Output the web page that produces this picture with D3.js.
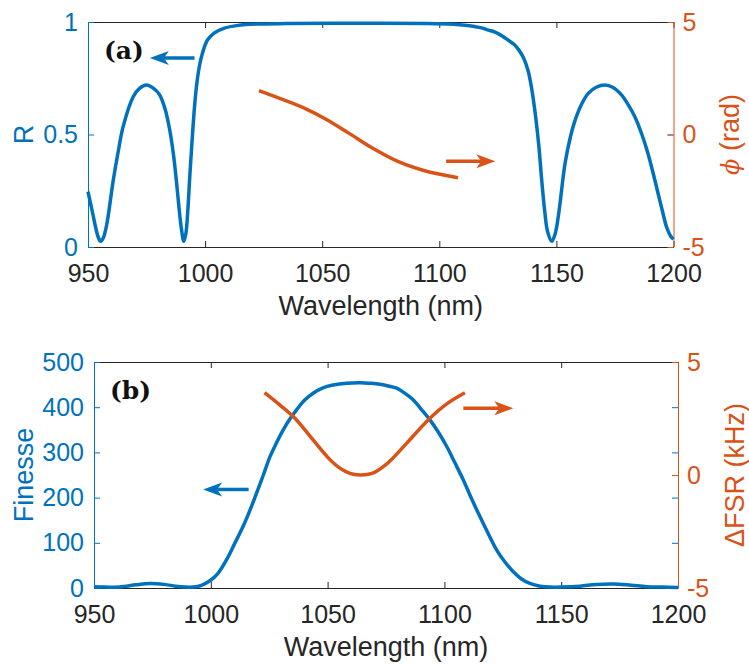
<!DOCTYPE html>
<html>
<head>
<meta charset="utf-8">
<script src="https://cdn.jsdelivr.net/npm/d3@7"></script>
<style>
  body { margin: 0; background: #fff; }
  svg { display: block; font-family: "Liberation Sans", Arial, Helvetica, sans-serif; }
</style>
</head>
<body>
<div id="chart"></div>
<script>
// ---- data ----
const wavelengthTicks = [950, 1000, 1050, 1100, 1150, 1200];

// (a) reflectance R vs wavelength
const rWl = [950, 952, 953.2, 954.5, 955.4, 956.5, 958, 960.8, 963, 965, 969.3, 972, 975, 978, 980.6, 983, 984.9,
  986.5, 987.7, 989, 989.9, 990.9, 991.8, 992.6, 993.5, 994.3, 995.3, 996.3, 997.5, 998.7, 1001, 1004, 1008, 1014,
  1022, 1035, 1065, 1095, 1106, 1111, 1115, 1118, 1121, 1124, 1127, 1129.6, 1132, 1134, 1136, 1138, 1139.5, 1141,
  1142.5, 1143.7, 1145, 1146.2, 1148, 1149.5, 1151, 1153.7, 1156, 1158, 1161, 1163.6, 1167, 1170.7, 1174, 1177.8,
  1180.5, 1183.5, 1186.5, 1189.1, 1191.5, 1193.4, 1195.5, 1197, 1199, 1200];
const rVal = [0.246, 0.15, 0.09, 0.04, 0.025, 0.04, 0.10, 0.298, 0.43, 0.535, 0.668, 0.705, 0.72, 0.705, 0.676, 0.61, 0.52,
  0.41, 0.298, 0.16, 0.08, 0.025, 0.06, 0.16, 0.32, 0.45, 0.6, 0.712, 0.8, 0.855, 0.92, 0.952, 0.972, 0.985,
  0.991, 0.993, 0.994, 0.993, 0.99, 0.986, 0.98, 0.974, 0.964, 0.954, 0.937, 0.918, 0.9, 0.875, 0.84, 0.78, 0.7, 0.59,
  0.45, 0.3, 0.16, 0.07, 0.025, 0.06, 0.15, 0.372, 0.49, 0.564, 0.64, 0.683, 0.71, 0.72, 0.71, 0.676,
  0.635, 0.579, 0.5, 0.416, 0.32, 0.239, 0.15, 0.09, 0.045, 0.035];

// (a) phase phi (rad)
const phiWl = [1023, 1033, 1043, 1051.6, 1061.5, 1071.4, 1082.8, 1094.1, 1108];
const phiVal = [1.95, 1.56, 1.14, 0.68, 0.05, -0.6, -1.22, -1.62, -1.92];

// (b) finesse
const fWl = [950, 955, 961, 968, 974, 980, 985, 989, 992.5, 996, 999.6, 1003, 1006.7, 1010, 1013.8, 1017, 1019.5,
  1022.5, 1025.3, 1028, 1031, 1034, 1036.7, 1040, 1043.8, 1048, 1052.4, 1058, 1064, 1068, 1072.4, 1076, 1079.6, 1083,
  1086.7, 1090, 1093.8, 1097.5, 1101, 1104.5, 1108.1, 1111.5, 1115.2, 1119, 1122.4, 1126, 1129.5, 1133, 1136.6, 1141,
  1145.2, 1150, 1158, 1165, 1172.3, 1180, 1186.6, 1193, 1200];
const fVal = [3, 2, 2, 7, 10, 8, 4, 2, 2, 6, 16, 32, 62, 96, 136, 175, 209,
  250, 290, 320, 350, 375, 394, 415, 431, 443, 449, 453, 454, 453, 451, 447, 442, 431,
  416, 396, 372, 344, 313, 277, 239, 199, 158, 118, 84, 57, 36, 20, 10, 4,
  2, 2, 4, 8, 9, 6, 3, 2, 1];

// (b) delta FSR (kHz)
const fsrWl = [1023, 1029.5, 1036, 1043.8, 1051, 1054.5, 1058, 1061, 1064.3, 1067.5, 1070.5, 1074, 1077.5,
  1083.8, 1093.8, 1101, 1108.8];
const fsrVal = [3.64, 3.1, 2.51, 1.55, 0.68, 0.36, 0.14, 0.03, 0.0, 0.03, 0.14, 0.38, 0.7,
  1.4, 2.51, 3.15, 3.64];

// arrows [from wavelength, to wavelength, level on own axis]
const arrowsA = [{side: "left", from: 995.5, to: 976.4, at: 0.84}, {side: "right", from: 1102.9, to: 1123.9, at: -1.19}];
const arrowsB = [{side: "left", from: 1016.2, to: 996.7, at: 218}, {side: "right", from: 1108.1, to: 1129.5, at: 2.95}];

// ---- drawing ----
const W = 749, H = 664;
const BLUE = "#0072BD", ORANGE = "#D95319", DARK = "#262626";
const TICK_FONT = 25, LABEL_FONT = 27;

const svg = d3.select("#chart").append("svg").attr("width", W).attr("height", H);

const panels = [
  {tag: "(a)", box: {left: 88, right: 673.5, top: 22, bottom: 247},
   leftDomain: [0, 1], leftTicks: [0, 0.5, 1], leftLabel: "R",
   rightDomain: [-5, 5], rightTicks: [-5, 0, 5], rightLabel: "phi",
   leftX: rWl, leftY: rVal, rightX: phiWl, rightY: phiVal, arrows: arrowsA},
  {tag: "(b)", box: {left: 94, right: 678, top: 362, bottom: 588},
   leftDomain: [0, 500], leftTicks: [0, 100, 200, 300, 400, 500], leftLabel: "Finesse",
   rightDomain: [-5, 5], rightTicks: [-5, 0, 5], rightLabel: "\u0394FSR (kHz)",
   leftX: fWl, leftY: fVal, rightX: fsrWl, rightY: fsrVal, arrows: arrowsB}
];

panels.forEach(p => drawPanel(p));

function drawPanel(p) {
  const b = p.box;
  const x = d3.scaleLinear().domain([950, 1200]).range([b.left, b.right]);
  const yL = d3.scaleLinear().domain(p.leftDomain).range([b.bottom, b.top]);
  const yR = d3.scaleLinear().domain(p.rightDomain).range([b.bottom, b.top]);
  const g = svg.append("g");
  const fmt = d => String(d);

  // bottom axis
  const xb = g.append("g").attr("transform", `translate(0,${b.bottom})`)
    .call(d3.axisBottom(x).tickValues(wavelengthTicks).tickFormat(fmt).tickSizeInner(-6).tickSizeOuter(0).tickPadding(17));
  styleAxis(xb, DARK);
  // top axis (ticks only)
  const xt = g.append("g").attr("transform", `translate(0,${b.top})`)
    .call(d3.axisTop(x).tickValues(wavelengthTicks).tickFormat("").tickSizeInner(-6).tickSizeOuter(0));
  styleAxis(xt, DARK);

  // right axis: blue mirror ticks of the left axis, then own ticks
  const rb = g.append("g").attr("transform", `translate(${b.right},0)`)
    .call(d3.axisRight(yL).tickValues(p.leftTicks.slice(1, -1)).tickFormat("").tickSizeInner(-6).tickSizeOuter(0));
  styleAxis(rb, BLUE);
  rb.select(".domain").remove();
  const ra = g.append("g").attr("transform", `translate(${b.right},0)`)
    .call(d3.axisRight(yR).tickValues(p.rightTicks).tickFormat(fmt).tickSizeInner(-6).tickSizeOuter(0).tickPadding(9));
  styleAxis(ra, ORANGE);

  // left axis
  const la = g.append("g").attr("transform", `translate(${b.left},0)`)
    .call(d3.axisLeft(yL).tickValues(p.leftTicks).tickFormat(fmt).tickSizeInner(-6).tickSizeOuter(0).tickPadding(10));
  styleAxis(la, BLUE);

  // axis titles
  g.append("text")
    .attr("transform", `translate(${(b.left + b.right) / 2},${b.bottom + 68})`)
    .attr("text-anchor", "middle").attr("font-size", LABEL_FONT).attr("fill", DARK)
    .text("Wavelength (nm)");
  g.append("text")
    .attr("transform", `translate(33,${(b.top + b.bottom) / 2}) rotate(-90)`)
    .attr("text-anchor", "middle").attr("font-size", LABEL_FONT).attr("fill", BLUE)
    .text(p.leftLabel);
  const rt = g.append("text")
    .attr("transform", `translate(${p.rightLabel === "phi" ? 739 : 744},${(b.top + b.bottom) / 2}) rotate(-90)`)
    .attr("text-anchor", "middle").attr("font-size", LABEL_FONT).attr("fill", ORANGE);
  if (p.rightLabel === "phi") {
    rt.append("tspan").attr("font-family", "'DejaVu Serif', serif").attr("font-style", "italic")
      .attr("font-size", 24).text("\u03D5");
    rt.append("tspan").text(" (rad)");
  } else {
    rt.text(p.rightLabel);
  }

  // curves
  const leftData = p.leftX.map((d, i) => [d, p.leftY[i]]);
  const rightData = p.rightX.map((d, i) => [d, p.rightY[i]]);
  const smooth = d3.curveCatmullRom.alpha(0.5);
  g.append("path").datum(leftData)
    .attr("fill", "none").attr("stroke", BLUE).attr("stroke-width", 3.5).attr("stroke-linejoin", "round")
    .attr("d", d3.line().x(d => x(d[0])).y(d => yL(d[1])).curve(smooth));
  g.append("path").datum(rightData)
    .attr("fill", "none").attr("stroke", ORANGE).attr("stroke-width", 3.5).attr("stroke-linejoin", "round")
    .attr("d", d3.line().x(d => x(d[0])).y(d => yR(d[1])).curve(smooth));

  // arrows
  p.arrows.forEach(a => {
    const ys = a.side === "left" ? yL : yR;
    drawArrow(g, x(a.from), x(a.to), ys(a.at), a.side === "left" ? BLUE : ORANGE);
  });

  // panel tag
  g.append("text")
    .attr("x", b.left + 16).attr("y", b.top + 37)
    .attr("font-family", "'DejaVu Serif', serif").attr("font-weight", "bold").attr("font-size", 25)
    .attr("fill", "#111").text(p.tag);
}

function styleAxis(sel, color) {
  sel.attr("color", color).attr("font-size", TICK_FONT)
    .attr("font-family", "'Liberation Sans', Arial, Helvetica, sans-serif");
  sel.selectAll("line").attr("stroke-width", 1);
  sel.select(".domain").attr("stroke-width", 1);
}

function drawArrow(g, x1, x2, y, color) {
  const dir = Math.sign(x2 - x1);
  const headLen = 19, halfW = 7, notch = 5;
  const base = x2 - dir * headLen;
  g.append("line")
    .attr("x1", x1).attr("x2", base + dir * notch).attr("y1", y).attr("y2", y)
    .attr("stroke", color).attr("stroke-width", 3.5);
  g.append("path")
    .attr("d", `M${x2},${y} L${base},${y - halfW} L${base + dir * notch},${y} L${base},${y + halfW} Z`)
    .attr("fill", color);
}
</script>
</body>
</html>
